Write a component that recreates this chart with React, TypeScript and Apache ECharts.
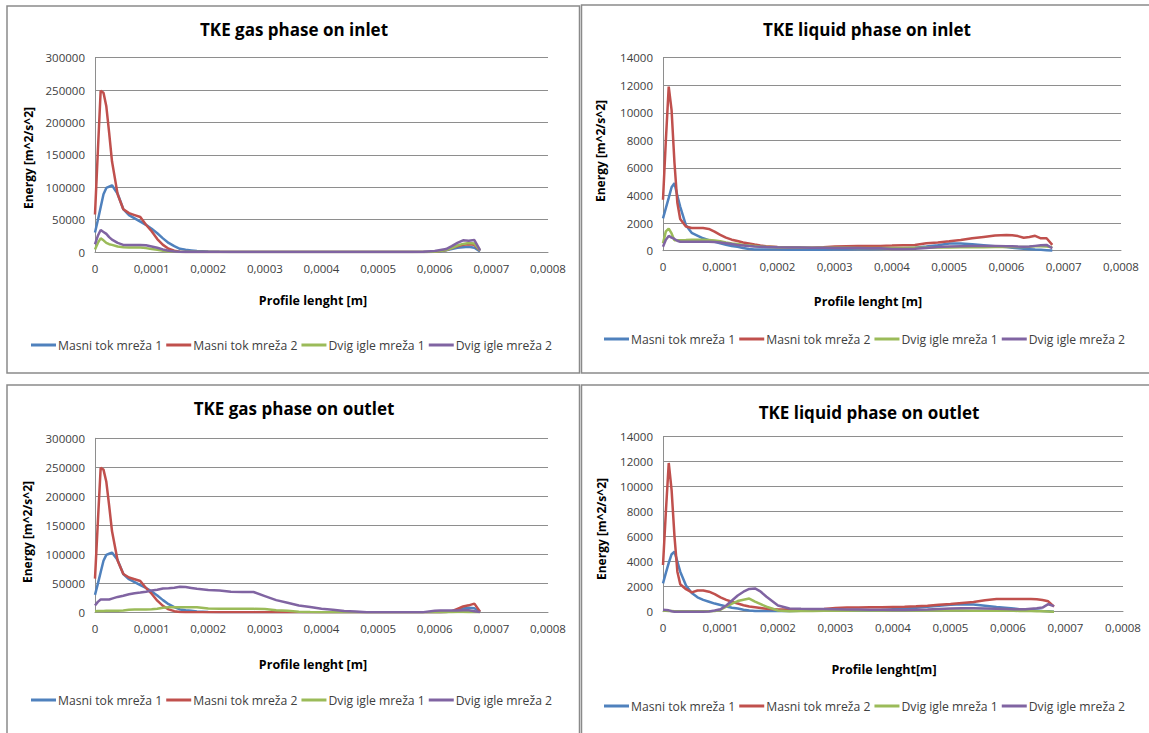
import React, { useEffect, useRef } from "react";
import * as echarts from "echarts";

// Profile positions [m] shared by every series
const X = [
  0, 0.000005, 0.00001, 0.000015, 0.00002, 0.000025, 0.00003,
  0.00004, 0.00005, 0.00006, 0.00007, 0.00008, 0.00009, 0.0001, 0.00011, 0.00012, 0.00013, 0.00014, 0.00015, 0.00016, 0.00017, 0.00018,
  0.0002, 0.00022, 0.00024, 0.00026, 0.00028, 0.0003, 0.00032, 0.00034, 0.00036, 0.00038, 0.0004, 0.00042, 0.00044, 0.00046, 0.00048, 0.0005, 0.00052, 0.00054, 0.00056, 0.00058,
  0.0006, 0.00061, 0.00062, 0.00063, 0.00064, 0.00065, 0.00066, 0.00067, 0.00068,
];

const SERIES_NAMES = ["Masni tok mreža 1", "Masni tok mreža 2", "Dvig igle mreža 1", "Dvig igle mreža 2"];
const SERIES_COLORS = ["#4F81BD", "#C0504D", "#9BBB59", "#8064A2"];

const X_TICKS = [0, 0.0001, 0.0002, 0.0003, 0.0004, 0.0005, 0.0006, 0.0007, 0.0008];
const GAS_Y_TICKS = [0, 50000, 100000, 150000, 200000, 250000, 300000];
const LIQ_Y_TICKS = [0, 2000, 4000, 6000, 8000, 10000, 12000, 14000];

// ---- TKE gas phase on inlet ----
const GI_M1 = [
  30000, 49000, 69000, 89000, 99000, 101000, 103000,
  90000, 66000, 57000, 52000, 47000, 42000, 36000, 29000, 21000, 14000, 9000, 5000, 3500, 2500, 1500,
  600, 200, 0, 0, 0, 0, 0, 0, 0, 0, 0, 0, 0, 0, 0, 0, 0, 0, 0, 0,
  300, 1000, 2500, 4500, 6500, 7500, 8000, 6500, 1000,
];
const GI_M2 = [
  58000, 155000, 249000, 246000, 225000, 184000, 140000,
  89000, 66000, 60000, 57000, 54000, 42000, 32000, 20000, 11000, 5000, 2000, 500, 0, 0, 0,
  0, 0, 0, 0, 0, 0, 0, 0, 0, 0, 0, 0, 0, 0, 0, 0, 0, 0, 0, 0,
  500, 1500, 3000, 6000, 9000, 11000, 12000, 11000, 2000,
];
const GI_D1 = [
  4000, 14000, 21000, 18000, 14000, 12000, 11000,
  8500, 7500, 7000, 7000, 6800, 6000, 4500, 3500, 2000, 800, 200, 0, 0, 0, 0,
  0, 0, 0, 0, 0, 0, 0, 0, 0, 0, 0, 0, 0, 0, 0, 0, 0, 0, 0, 0,
  500, 1500, 3000, 6000, 10000, 12500, 14000, 13000, 2500,
];
const GI_D2 = [
  12000, 25000, 34000, 31000, 28000, 23000, 19000,
  14000, 11000, 10800, 10800, 10800, 10500, 8500, 6500, 4000, 2000, 800, 200, 0, 0, 0,
  0, 0, 0, 0, 0, 0, 0, 0, 0, 0, 0, 0, 0, 0, 0, 0, 0, 0, 0, 300,
  1500, 3000, 4500, 9000, 14000, 18000, 17500, 18500, 3000,
];

// ---- TKE liquid phase on inlet ----
const LI_M1 = [
  2350, 3090, 3830, 4600, 4900, 4000, 3200,
  1850, 1300, 1100, 900, 760, 640, 530, 430, 340, 280, 200, 130, 90, 80, 80,
  80, 70, 70, 70, 70, 80, 90, 100, 110, 130, 160, 180, 220, 300, 400, 520, 520, 470, 400, 330,
  260, 220, 180, 140, 110, 80, 60, 40, 20,
];
const LI_M2 = [
  3700, 8000, 11900, 10200, 6400, 3500, 2300,
  1750, 1650, 1640, 1640, 1580, 1380, 1150, 950, 800, 700, 600, 530, 450, 380, 320,
  270, 250, 230, 220, 250, 300, 330, 340, 340, 350, 370, 400, 420, 540, 600, 680, 780, 900, 1000, 1100,
  1140, 1120, 1060, 940, 1000, 1080, 900, 900, 420,
];
const LI_D1 = [
  530, 1400, 1600, 1250, 750, 750, 750,
  770, 800, 800, 800, 780, 740, 680, 600, 530, 480, 420, 380, 340, 300, 280,
  250, 240, 230, 220, 220, 210, 210, 200, 200, 200, 200, 200, 210, 220, 230, 240, 250, 250, 250, 260,
  260, 260, 260, 270, 280, 320, 330, 300, 250,
];
const LI_D2 = [
  290, 800, 1070, 950, 850, 720, 650,
  650, 650, 650, 650, 650, 640, 600, 540, 480, 420, 380, 340, 310, 290, 270,
  250, 240, 230, 220, 210, 200, 200, 190, 180, 170, 120, 120, 150, 200, 260, 300, 320, 340, 350, 350,
  330, 320, 300, 290, 300, 350, 400, 420, 180,
];

// ---- TKE gas phase on outlet ----
const GO_M1 = [
  30000, 49000, 69000, 89000, 99000, 101000, 103000,
  90000, 66000, 57000, 52000, 47000, 42000, 36000, 29000, 21000, 14000, 9000, 5000, 3500, 2500, 1500,
  600, 200, 0, 0, 0, 0, 0, 0, 0, 0, 0, 0, 0, 0, 0, 0, 0, 0, 0, 0,
  0, 0, 500, 1500, 4000, 6500, 8000, 7000, 500,
];
const GO_M2 = [
  58000, 155000, 249000, 246000, 225000, 184000, 140000,
  89000, 66000, 60000, 57000, 54000, 42000, 32000, 20000, 11000, 5000, 2000, 500, 0, 0, 0,
  0, 0, 0, 0, 0, 0, 0, 0, 0, 0, 0, 0, 0, 0, 0, 0, 0, 0, 0, 0,
  0, 200, 600, 2000, 6000, 10000, 12000, 15000, 1000,
];
const GO_D1 = [
  2000, 2200, 2300, 2400, 2500, 2500, 2500,
  2500, 3000, 4500, 5000, 5000, 5000, 5200, 6000, 8000, 8800, 8800, 8800, 8800, 8800, 8800,
  6500, 6000, 6000, 6000, 6000, 5500, 3500, 2500, 1000, 500, 200, 0, 0, 0, 0, 0, 0, 0, 0, 0,
  0, 0, 0, 200, 500, 500, 300, 200, 0,
];
const GO_D2 = [
  11800, 18000, 22000, 22000, 22000, 22000, 23500,
  26500, 28500, 31000, 33000, 34000, 35500, 37500, 39000, 41000, 41500, 42500, 44000, 43500, 42000, 40500,
  38500, 37500, 35500, 35000, 35000, 28000, 21000, 16500, 11800, 9000, 6000, 4200, 2200, 1500, 200, 0, 0, 0, 0, 300,
  2500, 3000, 3000, 3000, 3000, 3500, 3500, 2000, 500,
];

// ---- TKE liquid phase on outlet ----
const LO_M1 = [
  2260, 3100, 3900, 4600, 4800, 4000, 3200,
  2100, 1500, 1150, 950, 800, 650, 530, 420, 320, 250, 150, 90, 60, 50, 50,
  50, 60, 70, 70, 80, 90, 100, 110, 120, 130, 190, 250, 320, 400, 480, 560, 590, 580, 480, 380,
  300, 250, 200, 150, 130, 100, 60, 30, 0,
];
const LO_M2 = [
  3740, 8000, 11900, 9700, 6000, 3200, 2200,
  1800, 1550, 1700, 1700, 1600, 1400, 1150, 950, 800, 650, 520, 420, 360, 300, 230,
  180, 180, 190, 200, 220, 300, 330, 340, 350, 350, 380, 400, 430, 480, 560, 620, 700, 780, 920, 1010,
  1010, 1010, 1010, 1010, 1010, 990, 930, 830, 400,
];
const LO_D1 = [
  80, 70, 60, 50, 40, 30, 30,
  30, 30, 30, 30, 30, 60, 160, 400, 650, 850, 950, 1050, 800, 600, 400,
  100, 40, 50, 60, 70, 80, 80, 90, 90, 100, 100, 100, 100, 100, 100, 90, 90, 80, 80, 80,
  70, 70, 60, 60, 50, 40, 30, 20, 0,
];
const LO_D2 = [
  160, 140, 110, 40, 0, 0, 0,
  0, 0, 0, 0, 20, 100, 200, 500, 900, 1300, 1600, 1820, 1860, 1600, 1200,
  500, 250, 230, 220, 220, 200, 180, 170, 160, 150, 140, 130, 150, 180, 220, 250, 270, 270, 260, 240,
  210, 200, 190, 200, 240, 270, 330, 600, 450,
];

const FONT = "'Open Sans', 'Liberation Sans', sans-serif";
const TEXT_COLOR = "#404040";
const GRID_COLOR = "#8e8e8e";

type Panel = {
  title: string;
  xName: string;
  yName: string;
  series: number[][];
  yTicks: number[];
  grid: { left: number; top: number; width: number; height: number };
  titleX: number; titleY: number;
  xNameX: number; xNameY: number;
  yNameX: number; yNameY: number;
  legendX: number; legendY: number;
  box: { x: number; y: number; w: number; h: number };
};

const PANELS: Panel[] = [
  {
    title: "TKE gas phase on inlet", xName: "Profile lenght [m]", yName: "Energy [m^2/s^2]",
    series: [GI_M1, GI_M2, GI_D1, GI_D2], yTicks: GAS_Y_TICKS,
    grid: { left: 95, top: 57.7, width: 453, height: 194.3 },
    titleX: 294, titleY: 29, xNameX: 313, xNameY: 300, yNameX: 28, yNameY: 158,
    legendX: 31, legendY: 347, box: { x: 7, y: 6, w: 572.5, h: 367 },
  },
  {
    title: "TKE liquid phase on inlet", xName: "Profile lenght [m]", yName: "Energy [m^2/s^2]",
    series: [LI_M1, LI_M2, LI_D1, LI_D2], yTicks: LIQ_Y_TICKS,
    grid: { left: 663, top: 57.7, width: 458, height: 193 },
    titleX: 867, titleY: 29, xNameX: 868, xNameY: 301, yNameX: 600, yNameY: 151,
    legendX: 604, legendY: 341, box: { x: 581.5, y: 5, w: 600, h: 368 },
  },
  {
    title: "TKE gas phase on outlet", xName: "Profile lenght [m]", yName: "Energy [m^2/s^2]",
    series: [GO_M1, GO_M2, GO_D1, GO_D2], yTicks: GAS_Y_TICKS,
    grid: { left: 95, top: 438.3, width: 453, height: 174 },
    titleX: 294, titleY: 408, xNameX: 313, xNameY: 664, yNameX: 27, yNameY: 532,
    legendX: 31, legendY: 702, box: { x: 7, y: 385, w: 572.5, h: 400 },
  },
  {
    title: "TKE liquid phase on outlet", xName: "Profile lenght[m]", yName: "Energy [m^2/s^2]",
    series: [LO_M1, LO_M2, LO_D1, LO_D2], yTicks: LIQ_Y_TICKS,
    grid: { left: 663, top: 436.7, width: 460, height: 175 },
    titleX: 869, titleY: 412, xNameX: 884, xNameY: 669, yNameX: 601, yNameY: 529,
    legendX: 604, legendY: 708, box: { x: 581.5, y: 385, w: 600, h: 400 },
  },
];

const fmtX = (v: number) => (v === 0 ? "0" : v.toFixed(4).replace(".", ","));

function buildOption() {
  const grid: any[] = [];
  const xAxis: any[] = [];
  const yAxis: any[] = [];
  const series: any[] = [];
  const legend: any[] = [];
  const graphic: any[] = [];

  PANELS.forEach((p, pi) => {
    graphic.push({
      type: "rect", silent: true, z: -10,
      shape: { x: p.box.x, y: p.box.y, width: p.box.w, height: p.box.h },
      style: { fill: "none", stroke: "#8a8a8a", lineWidth: 1.5 },
    });
    graphic.push({
      type: "text", x: p.titleX, y: p.titleY,
      style: { text: p.title, font: `bold 17px ${FONT}`, fill: "#000", textAlign: "center", textVerticalAlign: "middle" },
    });
    graphic.push({
      type: "text", x: p.xNameX, y: p.xNameY,
      style: { text: p.xName, font: `bold 12.5px ${FONT}`, fill: "#000", textAlign: "center", textVerticalAlign: "middle" },
    });
    graphic.push({
      type: "text", x: p.yNameX, y: p.yNameY, rotation: Math.PI / 2,
      style: { text: p.yName, font: `bold 12px ${FONT}`, fill: "#000", textAlign: "center", textVerticalAlign: "middle" },
    });

    grid.push({ ...p.grid });
    const yMax = p.yTicks[p.yTicks.length - 1];
    const yStep = p.yTicks[1] - p.yTicks[0];
    xAxis.push({
      type: "value", gridIndex: pi, min: X_TICKS[0], max: X_TICKS[X_TICKS.length - 1],
      interval: X_TICKS[1] - X_TICKS[0],
      axisLine: { show: true, onZero: false, lineStyle: { color: GRID_COLOR, width: 1 } },
      axisTick: { show: false },
      splitLine: { show: false },
      axisLabel: { color: TEXT_COLOR, fontSize: 11.5, fontFamily: FONT, margin: 10, formatter: fmtX, showMaxLabel: true, showMinLabel: true },
    });
    yAxis.push({
      type: "value", gridIndex: pi, min: 0, max: yMax, interval: yStep,
      axisLine: { show: true, lineStyle: { color: GRID_COLOR, width: 1 } },
      axisTick: { show: false },
      splitLine: { show: true, lineStyle: { color: GRID_COLOR, width: 1 } },
      axisLabel: { color: TEXT_COLOR, fontSize: 11.5, fontFamily: FONT, margin: 10, formatter: (v: number) => String(v) },
    });
    p.series.forEach((vals, si) => {
      series.push({
        type: "line", name: SERIES_NAMES[si], xAxisIndex: pi, yAxisIndex: pi,
        data: X.map((x, i) => [x, vals[i]]),
        showSymbol: false, symbol: "none",
        lineStyle: { color: SERIES_COLORS[si], width: 2.5 },
        itemStyle: { color: SERIES_COLORS[si] },
        z: 2 + si,
      });
    });
    legend.push({
      data: SERIES_NAMES, left: p.legendX, top: p.legendY - 8, orient: "horizontal",
      icon: "rect", itemWidth: 25, itemHeight: 3, itemGap: 4, padding: 0,
      selectedMode: false,
      textStyle: { color: TEXT_COLOR, fontSize: 12.2, fontFamily: FONT, padding: [0, 0, 0, -3] },
    });
  });

  return {
    animation: false,
    backgroundColor: "#ffffff",
    grid, xAxis, yAxis, series, legend, graphic,
  };
}

export default function App() {
  const ref = useRef<HTMLDivElement>(null);
  useEffect(() => {
    if (!ref.current) return;
    const chart = echarts.init(ref.current, undefined, { renderer: "svg" });
    chart.setOption(buildOption() as any);
    return () => chart.dispose();
  }, []);
  return (
    <div
      ref={ref}
      style={{ position: "fixed", left: 0, top: 0, width: 1149, height: 733, background: "#fff" }}
    />
  );
}
